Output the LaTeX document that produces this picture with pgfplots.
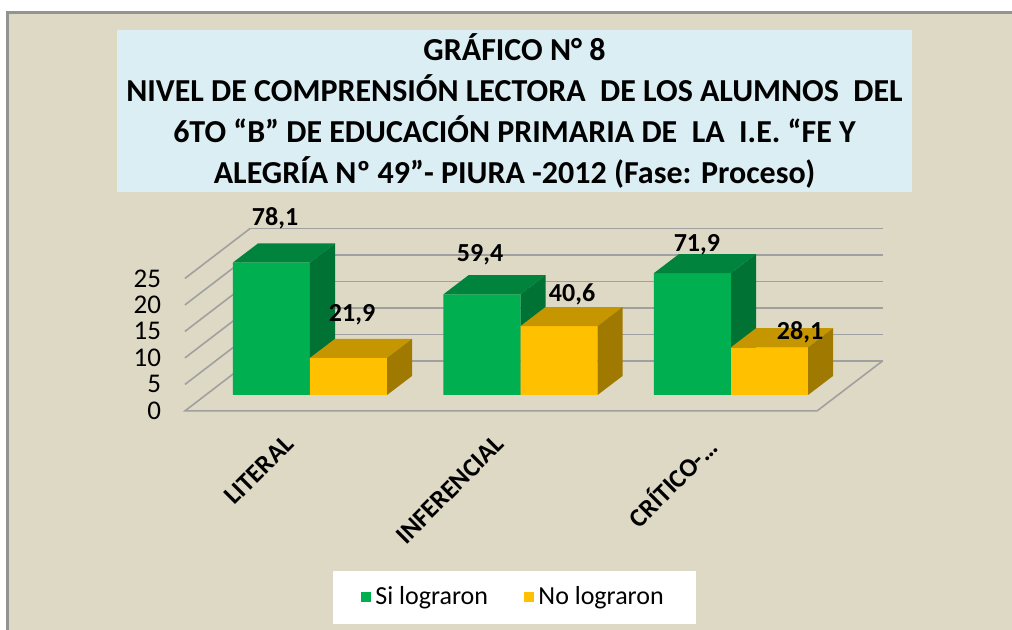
\documentclass[border=0pt]{standalone}
\usepackage{pgfplots}
\pgfplotsset{compat=1.18}
\usepackage{fontspec}
\setmainfont{Carlito}
\definecolor{bg}{HTML}{DDD9C4}
\definecolor{ttl}{HTML}{DBEEF3}
\definecolor{gF}{HTML}{00B050}
\definecolor{gT}{HTML}{00843D}
\definecolor{gS}{HTML}{007334}
\definecolor{yF}{HTML}{FFC000}
\definecolor{yT}{HTML}{C59600}
\definecolor{yS}{HTML}{A07A00}
\definecolor{gridc}{HTML}{A0A0A0}
\begin{document}
\begin{tikzpicture}[x=1pt,y=1pt]
\path[use as bounding box] (-155,-117.5) rectangle (351,197.5);
\clip (-155,-117.5) rectangle (351,197.5);
\fill[white] (-156,-118) rectangle (352,198);
\fill[bg] (-151,-125) rectangle (360,191);
\draw[gray!85, line width=1.5pt] (-151,-125) -- (-151,191) -- (360,191);
\fill[ttl] (-96.5,101.5) rectangle (301,182.5);
\node[align=center, font=\bfseries\fontsize{16}{20.5}\selectfont] at (102.25,142)
 {GRÁFICO N° 8\\NIVEL DE COMPRENSIÓN LECTORA\ \ DE LOS ALUMNOS\ \ DEL\\6TO “B” DE EDUCACIÓN PRIMARIA DE\ \ LA\ \ I.E. “FE Y\\ALEGRÍA Nº 49”- PIURA -2012 (Fase: Proceso)};
\begin{axis}[at={(0,0)}, anchor=origin, x=105.25pt, y=2.65pt,
  xmin=-0.665, xmax=2.75, ymin=-3, ymax=31.5, clip=false,
  axis line style={draw=none}, major tick style={draw=none},
  ytick={-3,2,7,12,17,22}, yticklabels={0,5,10,15,20,25},
  yticklabel style={font=\fontsize{13.5}{14}\selectfont, xshift=-1pt},
  xtick={-0.128,0.872,1.872}, xticklabels={LITERAL,INFERENCIAL,CRÍTICO-…},
  xticklabel shift=6.5pt,
  xticklabel style={rotate=45, anchor=north east, font=\bfseries\fontsize{13}{14}\selectfont},
  legend style={at={(0.479,-1.019)}, anchor=center, draw=none, fill=white,
    legend columns=2, font=\fontsize{13}{14}\selectfont,
    inner xsep=14pt, inner ysep=6pt,
    /tikz/every even column/.append style={column sep=16pt}},
]
% back wall gridlines
\addplot[gridc, line width=0.8pt, forget plot] coordinates {(-0.284,6.43) (2.72,6.43)};
\addplot[gridc, line width=0.8pt, forget plot] coordinates {(-0.284,11.43) (2.72,11.43)};
\addplot[gridc, line width=0.8pt, forget plot] coordinates {(-0.284,16.43) (2.72,16.43)};
\addplot[gridc, line width=0.8pt, forget plot] coordinates {(-0.284,21.43) (2.72,21.43)};
\addplot[gridc, line width=0.8pt, forget plot] coordinates {(-0.284,26.43) (2.72,26.43)};
\addplot[gridc, line width=0.8pt, forget plot] coordinates {(-0.284,31.43) (2.72,31.43)};
% left wall lines
\addplot[gridc, line width=0.8pt, forget plot] coordinates {(-0.594,2) (-0.284,11.43)};
\addplot[gridc, line width=0.8pt, forget plot] coordinates {(-0.594,7) (-0.284,16.43)};
\addplot[gridc, line width=0.8pt, forget plot] coordinates {(-0.594,12) (-0.284,21.43)};
\addplot[gridc, line width=0.8pt, forget plot] coordinates {(-0.594,17) (-0.284,26.43)};
\addplot[gridc, line width=0.8pt, forget plot] coordinates {(-0.594,22) (-0.284,31.43)};
% floor
\addplot[gridc, line width=0.8pt, forget plot] coordinates {(-0.284,6.43) (-0.594,-3) (2.409,-3) (2.72,6.43)};
% green front faces
\addplot[ybar, bar width=0.366, bar shift=0pt, fill=gF, draw=none,
  legend image code/.code={\fill[gF] (0pt,-2.6pt) rectangle (5.2pt,2.6pt);}]
  coordinates {(-0.183,25) (0.817,19) (1.817,23)};
\addlegendentry{Si lograron}
% green tops and sides
\addplot[fill=gT, draw=none, forget plot] coordinates {(-0.366,25) (0,25) (0.119,28.6) (-0.247,28.6)} -- cycle;
\addplot[fill=gS, draw=none, forget plot] coordinates {(0,0) (0.119,3.6) (0.119,28.6) (0,25)} -- cycle;
\addplot[fill=gT, draw=none, forget plot] coordinates {(0.634,19) (1,19) (1.119,22.6) (0.753,22.6)} -- cycle;
\addplot[fill=gS, draw=none, forget plot] coordinates {(1,0) (1.119,3.6) (1.119,22.6) (1,19)} -- cycle;
\addplot[fill=gT, draw=none, forget plot] coordinates {(1.634,23) (2,23) (2.119,26.6) (1.753,26.6)} -- cycle;
\addplot[fill=gS, draw=none, forget plot] coordinates {(2,0) (2.119,3.6) (2.119,26.6) (2,23)} -- cycle;
% yellow front faces
\addplot[ybar, bar width=0.366, bar shift=0pt, fill=yF, draw=none,
  legend image code/.code={\fill[yF] (0pt,-2.6pt) rectangle (5.2pt,2.6pt);}]
  coordinates {(0.183,7) (1.183,13) (2.183,9)};
\addlegendentry{No lograron}
\addplot[fill=yT, draw=none, forget plot] coordinates {(0,7) (0.366,7) (0.485,10.6) (0.119,10.6)} -- cycle;
\addplot[fill=yS, draw=none, forget plot] coordinates {(0.366,0) (0.485,3.6) (0.485,10.6) (0.366,7)} -- cycle;
\addplot[fill=yT, draw=none, forget plot] coordinates {(1,13) (1.366,13) (1.485,16.6) (1.119,16.6)} -- cycle;
\addplot[fill=yS, draw=none, forget plot] coordinates {(1.366,0) (1.485,3.6) (1.485,16.6) (1.366,13)} -- cycle;
\addplot[fill=yT, draw=none, forget plot] coordinates {(2,9) (2.366,9) (2.485,12.6) (2.119,12.6)} -- cycle;
\addplot[fill=yS, draw=none, forget plot] coordinates {(2.366,0) (2.485,3.6) (2.485,12.6) (2.366,9)} -- cycle;
% value labels
\addplot[draw=none, mark=none, forget plot, nodes near coords, point meta=explicit symbolic,
  nodes near coords style={anchor=center, font=\bfseries\fontsize{13}{14}\selectfont}]
  table[meta=lab, row sep=\\] {x y lab\\ -0.166 33.4 78,1\\ 0.2 15.1 21,9\\ 0.808 26.4 59,4\\ 1.245 18.9 40,6\\ 1.838 28.3 71,9\\ 2.328 11.9 28,1\\};
\end{axis}
\end{tikzpicture}
\end{document}
